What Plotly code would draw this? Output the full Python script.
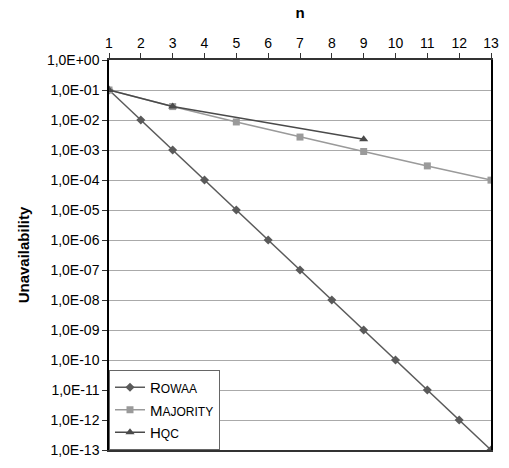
import plotly.graph_objects as go

rowaa_x = list(range(1, 14))
rowaa_y = [1e-1, 1e-2, 1e-3, 1e-4, 1e-5, 1e-6, 1e-7, 1e-8, 1e-9, 1e-10, 1e-11, 1e-12, 1e-13]
maj_x = [1, 3, 5, 7, 9, 11, 13]
maj_y = [1e-1, 2.8e-2, 8.6e-3, 2.7e-3, 8.9e-4, 2.95e-4, 9.9e-5]
hqc_x = [1, 3, 9]
hqc_y = [1e-1, 2.8e-2, 2.3e-3]

ytick_vals = [10 ** (-k) for k in range(0, 14)]
ytick_text = ["1,0E+00"] + ["1,0E-%02d" % k for k in range(1, 14)]
xtick_vals = list(range(1, 14))

FONT = "Liberation Sans, Arial, sans-serif"

fig = go.Figure()
fig.add_trace(go.Scatter(x=rowaa_x, y=rowaa_y, mode="lines+markers",
                         name="R<span style='font-size:12px'>OWAA</span>",
                         line=dict(color="#5a5a5a", width=1.5),
                         marker=dict(symbol="diamond", size=7, color="#5a5a5a")))
fig.add_trace(go.Scatter(x=maj_x, y=maj_y, mode="lines+markers",
                         name="M<span style='font-size:12px'>AJORITY</span>",
                         line=dict(color="#9a9a9a", width=1.5),
                         marker=dict(symbol="square", size=7, color="#9a9a9a")))
fig.add_trace(go.Scatter(x=hqc_x, y=hqc_y, mode="lines+markers",
                         name="H<span style='font-size:12px'>QC</span>",
                         line=dict(color="#4a4a4a", width=1.5),
                         marker=dict(symbol="triangle-up", size=8, color="#4a4a4a")))

fig.update_layout(
    width=509, height=468,
    margin=dict(l=109, r=10, t=60, b=12),
    paper_bgcolor="white", plot_bgcolor="white",
    font=dict(family=FONT, size=13, color="black"),
    showlegend=True,
    legend=dict(x=0, y=0, xanchor="left", yanchor="bottom",
                bordercolor="#666", borderwidth=1, bgcolor="white",
                font=dict(size=15, family=FONT), tracegroupgap=2),
)
fig.update_xaxes(side="top", range=[1, 13], tickvals=xtick_vals,
                 tickfont=dict(size=14),
                 showgrid=False, showline=True, linecolor="#333", linewidth=1.5,
                 ticks="outside", ticklen=5, tickcolor="#333", mirror=True,
                 zeroline=False,
                 title=dict(text="<b>n</b>", font=dict(size=15), standoff=12))
fig.update_yaxes(type="log", range=[-13, 0], tickvals=ytick_vals, ticktext=ytick_text,
                 tickfont=dict(size=14),
                 showgrid=True, gridcolor="#aaaaaa", gridwidth=1,
                 showline=True, linecolor="black", linewidth=1.5, mirror=True,
                 ticks="outside", ticklen=5, tickcolor="#333",
                 title=dict(text="<b>Unavailability</b>", font=dict(size=15), standoff=14))

fig.write_html("out.html")
